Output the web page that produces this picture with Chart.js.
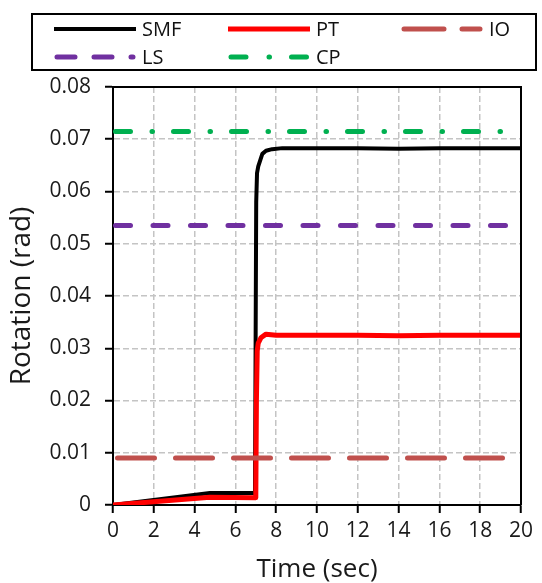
<!DOCTYPE html>
<html>
<head>
<meta charset="utf-8">
<script src="https://cdn.jsdelivr.net/npm/chart.js@4"></script>
<style>
  html, body { margin: 0; padding: 0; background: #fff; }
  #wrap { position: relative; width: 542px; height: 583px; }
  #chart { position: absolute; left: 0; top: 0; }
  #legend { position: absolute; left: 31px; top: 13px; width: 506px; height: 58px; box-sizing: border-box;
            border: 2px solid #000;
            font-family: "Open Sans", sans-serif; font-size: 20px; color: #111; }
  .item { position: absolute; height: 28px; display: flex; align-items: center; }
  .item svg { display: block; }
  .item span { margin-left: 6px; line-height: 28px; }
</style>
</head>
<body>
<div id="wrap">
  <canvas id="chart" width="542" height="583"></canvas>
  <div id="legend"></div>
</div>
<script>
// ---- data ----
const seriesNames = ["SMF", "PT", "IO", "LS", "CP"];

const smfTime = [0, 4.75, 6.96, 6.99, 7.02, 7.06, 7.12, 7.22, 7.32, 7.5, 7.8, 8.3, 10, 12, 14, 16, 18, 20];
const smfRot  = [0, 0.0023, 0.0023, 0.03, 0.058, 0.0635, 0.0648, 0.066, 0.0672, 0.0678, 0.0681, 0.0683, 0.0683, 0.0683, 0.0682, 0.0683, 0.0683, 0.0683];

const ptTime = [0, 4.75, 7.0, 7.03, 7.07, 7.12, 7.25, 7.5, 8.0, 10, 12, 14, 16, 18, 20];
const ptRot  = [0, 0.0015, 0.0014, 0.02, 0.0295, 0.031, 0.032, 0.0327, 0.0325, 0.0325, 0.0325, 0.0324, 0.0325, 0.0325, 0.0325];

const ioValue = 0.009;
const lsValue = 0.0535;
const cpValue = 0.0715;
const limitTime = [0, 20];

const xTickValues = [0, 2, 4, 6, 8, 10, 12, 14, 16, 18, 20];
const xTickLabels = ["0", "2", "4", "6", "8", "10", "12", "14", "16", "18", "20"];
const yTickValues = [0, 0.01, 0.02, 0.03, 0.04, 0.05, 0.06, 0.07, 0.08];
const yTickLabels = ["0", "0.01", "0.02", "0.03", "0.04", "0.05", "0.06", "0.07", "0.08"];

const xTitle = "Time (sec)";
const yTitle = "Rotation (rad)";

// ---- styles ----
const styles = {
  SMF: { color: "#000000", width: 4, dash: [], offset: 0, order: 5, cap: "butt" },
  PT:  { color: "#ff0000", width: 5, dash: [], offset: 0, order: 4, cap: "butt" },
  IO:  { color: "#c0504d", width: 5, dash: [37, 21], offset: -4.5, order: 3, cap: "round", legendDash: [40, 18] },
  LS:  { color: "#7030a0", width: 5, dash: [15, 22.5], offset: -2.5, order: 2, cap: "round", legendDash: [18, 19] },
  CP:  { color: "#00b050", width: 5, dash: [15, 21.5, 0.5, 21], offset: -2.5, order: 1, cap: "round", legendDash: [15, 23, 0.5, 22] }
};

function pts(xs, ys) { return xs.map((x, i) => ({ x: x, y: ys[i] })); }
function flat(v) { return limitTime.map(t => ({ x: t, y: v })); }

const seriesData = {
  SMF: pts(smfTime, smfRot),
  PT: pts(ptTime, ptRot),
  IO: flat(ioValue),
  LS: flat(lsValue),
  CP: flat(cpValue)
};

const datasets = seriesNames.map(n => ({
  label: n,
  data: seriesData[n],
  borderColor: styles[n].color,
  backgroundColor: styles[n].color,
  borderWidth: styles[n].width,
  borderDash: styles[n].dash,
  borderDashOffset: styles[n].offset,
  borderCapStyle: styles[n].cap,
  borderJoinStyle: "round",
  pointRadius: 0,
  pointHoverRadius: 0,
  showLine: true,
  fill: false,
  tension: 0,
  order: styles[n].order
}));

const frame = {
  id: "frame",
  afterDatasetsDraw(chart) {
    const a = chart.chartArea, ctx = chart.ctx;
    ctx.save();
    ctx.strokeStyle = "#000";
    ctx.lineWidth = 2;
    ctx.beginPath();
    ctx.moveTo(a.left, a.top);
    ctx.lineTo(a.right, a.top);
    ctx.lineTo(a.right, a.bottom);
    ctx.stroke();
    ctx.restore();
  }
};

const tickFont = { family: "'Open Sans', sans-serif", size: 21 };

new Chart(document.getElementById("chart"), {
  type: "scatter",
  data: { datasets: datasets },
  plugins: [frame],
  options: {
    responsive: false,
    animation: false,
    events: [],
    layout: { padding: { top: 87, right: 21, left: 0, bottom: 0 } },
    plugins: { legend: { display: false }, tooltip: { enabled: false } },
    scales: {
      x: {
        type: "linear", min: 0, max: 20,
        afterBuildTicks: s => { s.ticks = xTickValues.map(v => ({ value: v })); },
        afterFit: s => { s.height = 78; },
        ticks: { font: tickFont, color: "#1a1a1a", padding: 5, maxRotation: 0,
                 callback: (v, i) => xTickLabels[i] },
        grid: { color: "#c4c4c4", lineWidth: 1.5, tickLength: 8, tickColor: "#000", tickWidth: 2 },
        border: { display: true, color: "#000", width: 2, dash: [6, 3] },
        title: { display: true, text: xTitle, font: { family: "'Open Sans', sans-serif", size: 26 }, color: "#1a1a1a", padding: { top: 0, bottom: -2 } }
      },
      y: {
        type: "linear", min: 0, max: 0.08,
        afterBuildTicks: s => { s.ticks = yTickValues.map(v => ({ value: v })); },
        afterFit: s => { s.width = 113; },
        ticks: { font: tickFont, color: "#1a1a1a", padding: 14,
                 callback: (v, i) => yTickLabels[i] },
        grid: { color: "#c4c4c4", lineWidth: 1.5, tickLength: 8, tickColor: "#000", tickWidth: 2 },
        border: { display: true, color: "#000", width: 2, dash: [6, 3] },
        title: { display: true, text: yTitle, font: { family: "'Open Sans', sans-serif", size: 28 }, color: "#1a1a1a", padding: { top: 5, bottom: 0 } }
      }
    }
  }
});

// ---- HTML legend ----
const legendPos = {
  SMF: { left: 21, top: 0 },
  PT:  { left: 195, top: 0 },
  IO:  { left: 368, top: 0 },
  LS:  { left: 21, top: 28 },
  CP:  { left: 195, top: 28 }
};
const legend = document.getElementById("legend");
seriesNames.forEach(n => {
  const st = styles[n];
  const d = document.createElement("div");
  d.className = "item";
  d.style.left = legendPos[n].left + "px";
  d.style.top = legendPos[n].top + "px";
  const dashArr = st.legendDash || st.dash;
  const dash = dashArr.join(" ");
  const x1 = dashArr.length ? 3 : 0, x2 = dashArr.length ? 79 : 82;
  d.innerHTML = '<svg width="82" height="10"><line x1="' + x1 + '" y1="5" x2="' + x2 + '" y2="5" stroke="' + st.color +
    '" stroke-width="' + st.width + '" stroke-linecap="' + st.cap + '"' + (dash ? ' stroke-dasharray="' + dash + '"' : '') + ' /></svg><span>' + n + '</span>';
  legend.appendChild(d);
});
</script>
</body>
</html>
